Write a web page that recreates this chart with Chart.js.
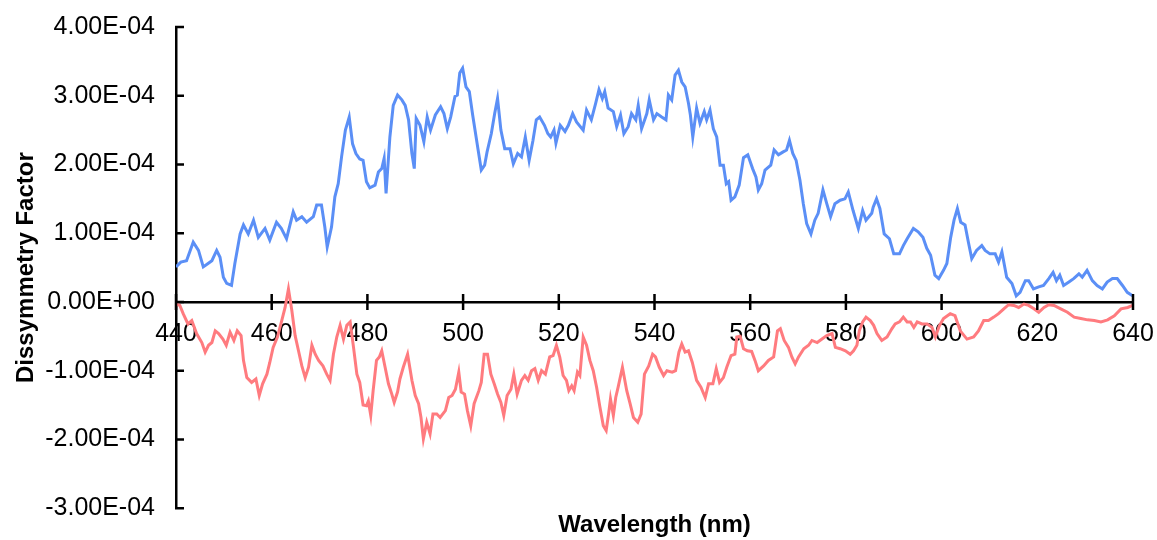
<!DOCTYPE html>
<html>
<head>
<meta charset="utf-8">
<script src="https://cdn.jsdelivr.net/npm/chart.js@4/dist/chart.umd.min.js"></script>
<style>
  html, body { margin: 0; padding: 0; background: #fff; }
  #wrap { width: 1157px; height: 540px; }
</style>
</head>
<body>
<div id="wrap"><canvas id="gChart" width="1157" height="540"></canvas></div>
<script>
// values are read in units of 1e-4
const G_UNIT = 1e-4;

const blueNm = [440.0,441.0,442.2,443.6,444.7,445.7,446.7,447.5,448.5,449.2,449.9,450.6,451.6,452.3,453.4,454.1,455.1,456.2,457.2,458.6,459.6,461.0,462.0,463.1,464.5,465.2,466.3,467.3,468.7,469.4,470.4,471.1,471.6,472.5,473.2,473.9,474.6,475.4,476.2,476.9,477.6,478.4,479.1,479.8,480.5,481.6,482.3,483.0,483.5,483.9,484.7,485.4,486.3,487.2,487.9,488.6,489.3,489.8,490.2,491.0,491.8,492.5,493.2,494.2,495.3,496.0,496.7,497.4,498.3,498.8,499.3,499.9,500.6,501.3,502.0,503.1,503.8,504.5,505.0,505.9,506.6,507.2,507.9,508.7,509.8,510.5,511.4,512.2,513.0,513.8,514.6,515.3,516.0,517.0,517.7,518.3,519.0,519.4,520.3,521.3,522.0,522.9,523.7,525.1,525.8,526.8,527.7,528.4,529.1,529.6,530.3,531.4,532.1,532.9,533.6,534.5,535.2,536.1,536.6,537.3,538.4,538.9,539.8,540.5,541.5,542.4,542.9,543.6,544.3,545.0,545.7,546.4,547.1,547.5,548.0,548.8,549.5,550.4,550.9,551.6,552.3,553.0,553.7,554.4,555.0,555.5,556.0,556.8,557.7,558.6,559.5,560.5,561.2,561.7,562.4,563.1,564.3,565.0,565.9,566.8,567.6,568.2,568.9,569.6,570.4,571.1,571.8,572.7,573.5,574.2,575.2,576.0,576.8,577.7,578.8,579.8,580.5,581.5,582.6,583.5,584.2,585.4,585.7,586.4,587.1,588.0,589.1,590.0,591.2,592.0,592.8,594.1,595.1,596.1,596.9,597.7,598.6,599.4,600.4,601.1,601.9,602.6,603.3,604.0,604.9,605.6,606.3,607.3,608.4,609.1,610.1,611.2,611.9,612.6,613.6,614.7,615.6,616.4,617.5,618.2,619.2,620.3,621.3,622.4,623.3,624.0,624.7,625.5,626.6,627.6,628.7,629.4,630.4,631.5,632.5,633.6,634.6,635.7,636.7,637.8,638.8,639.9];
const blueG = [0.51,0.58,0.60,0.87,0.75,0.51,0.56,0.60,0.75,0.65,0.36,0.27,0.24,0.56,0.99,1.12,0.99,1.19,0.94,1.07,0.90,1.16,1.07,0.92,1.31,1.19,1.24,1.16,1.24,1.41,1.41,1.09,0.80,1.09,1.53,1.72,2.11,2.50,2.69,2.30,2.16,2.08,2.06,1.75,1.66,1.70,1.89,1.94,2.09,1.58,2.40,2.86,3.01,2.94,2.86,2.65,2.16,1.94,2.67,2.57,2.33,2.69,2.50,2.72,2.84,2.74,2.52,2.69,2.99,3.01,3.33,3.40,3.13,3.06,2.72,2.23,1.92,1.99,2.18,2.45,2.74,2.96,2.50,2.23,2.23,2.01,2.16,2.11,2.40,2.06,2.35,2.65,2.69,2.57,2.45,2.40,2.50,2.31,2.57,2.48,2.57,2.74,2.62,2.50,2.79,2.65,2.89,3.09,2.96,3.06,2.82,2.77,2.55,2.72,2.45,2.55,2.74,2.65,2.86,2.52,2.74,2.94,2.65,2.74,2.69,2.65,3.01,2.94,3.30,3.37,3.20,3.13,2.89,2.72,2.40,2.82,2.60,2.77,2.65,2.79,2.52,2.40,1.99,1.99,1.72,1.75,1.48,1.53,1.70,2.10,2.14,1.94,1.82,1.63,1.72,1.92,1.99,2.21,2.14,2.18,2.21,2.35,2.16,2.06,1.77,1.43,1.14,0.99,1.19,1.29,1.63,1.43,1.24,1.43,1.48,1.50,1.60,1.33,1.07,1.33,1.19,1.29,1.38,1.50,1.36,0.99,0.92,0.70,0.70,0.82,0.92,1.07,1.02,0.94,0.78,0.68,0.39,0.34,0.46,0.56,0.94,1.19,1.36,1.16,1.12,0.87,0.63,0.75,0.82,0.75,0.70,0.70,0.58,0.73,0.36,0.27,0.09,0.14,0.31,0.31,0.19,0.22,0.24,0.34,0.43,0.31,0.39,0.24,0.29,0.34,0.41,0.36,0.46,0.31,0.24,0.19,0.29,0.34,0.34,0.24,0.14,0.09];

const redNm = [440.0,440.8,441.5,442.5,443.3,444.3,445.4,446.1,446.8,447.5,448.2,448.9,449.8,450.5,451.3,452.1,452.8,453.6,454.1,454.8,455.8,456.7,457.4,458.1,459.0,459.6,460.3,461.2,462.1,462.8,463.5,464.2,464.9,465.6,466.3,467.0,467.7,468.4,469.1,469.8,470.7,471.5,472.2,472.9,473.6,474.3,475.0,475.7,476.4,477.1,477.8,478.4,479.1,479.8,480.2,480.7,481.2,481.9,482.5,483.0,483.7,484.4,485.1,485.6,486.3,486.8,487.5,488.4,489.3,490.0,490.7,491.2,491.7,492.4,493.1,493.7,494.5,495.2,496.3,497.0,497.7,498.4,499.1,499.6,500.3,500.9,501.6,502.3,503.3,503.8,504.4,505.1,505.8,506.5,507.2,507.9,508.5,509.2,510.0,510.6,511.3,512.2,512.9,513.6,514.3,515.0,515.7,516.4,517.2,518.1,518.8,519.5,520.2,520.9,521.6,522.1,522.7,523.2,523.9,524.4,525.1,525.8,526.5,527.2,527.9,528.6,529.3,529.9,530.4,530.8,531.4,531.9,532.4,533.3,534.2,534.9,535.6,536.5,537.2,537.9,538.8,539.6,540.2,541.0,541.9,542.6,543.7,544.4,545.1,545.7,546.4,547.1,547.9,548.8,549.7,550.6,551.3,552.2,552.9,553.6,554.4,555.1,556.0,556.8,557.2,557.9,558.6,559.4,560.3,561.0,561.7,562.8,563.8,564.9,565.7,566.3,567.1,568.0,568.7,569.4,570.1,571.2,572.2,572.9,574.0,575.0,576.0,577.1,577.8,578.8,579.9,580.9,581.6,582.3,582.8,583.5,584.2,585.1,585.8,586.5,587.5,588.6,589.6,590.3,591.2,592.0,592.8,593.5,594.2,594.9,595.9,597.0,598.0,598.7,599.5,600.4,601.8,602.8,603.9,605.3,606.7,607.7,608.8,609.8,610.9,611.9,613.0,614.0,615.1,616.1,617.2,618.2,619.3,620.3,621.4,622.4,623.5,624.9,626.3,627.7,629.1,630.5,631.9,633.3,634.7,636.1,637.5,638.9,639.9];
const redG = [-0.03,-0.05,-0.17,-0.32,-0.27,-0.46,-0.59,-0.73,-0.63,-0.59,-0.42,-0.46,-0.54,-0.63,-0.44,-0.56,-0.42,-0.49,-0.85,-1.10,-1.17,-1.12,-1.36,-1.19,-1.05,-0.88,-0.66,-0.51,-0.27,-0.08,0.19,-0.12,-0.49,-0.71,-0.93,-1.10,-0.95,-0.63,-0.76,-0.85,-0.93,-1.05,-1.14,-0.76,-0.51,-0.34,-0.54,-0.34,-0.29,-0.66,-1.05,-1.17,-1.50,-1.51,-1.44,-1.65,-1.29,-0.85,-0.80,-0.71,-0.95,-1.19,-1.34,-1.46,-1.31,-1.12,-0.95,-0.76,-1.14,-1.36,-1.48,-1.68,-1.99,-1.75,-1.92,-1.63,-1.63,-1.68,-1.58,-1.39,-1.36,-1.27,-1.02,-1.31,-1.34,-1.58,-1.80,-1.48,-1.29,-1.17,-0.76,-0.76,-1.05,-1.19,-1.34,-1.46,-1.65,-1.36,-1.27,-1.05,-1.34,-1.14,-1.07,-1.14,-1.00,-0.97,-1.14,-1.00,-1.05,-0.80,-0.78,-0.63,-0.80,-1.07,-1.14,-1.29,-1.22,-1.29,-1.02,-1.07,-0.51,-0.63,-0.85,-1.00,-1.24,-1.53,-1.80,-1.87,-1.63,-1.41,-1.65,-1.39,-1.24,-0.95,-1.29,-1.48,-1.68,-1.75,-1.63,-1.05,-0.93,-0.76,-0.80,-0.95,-1.07,-1.00,-1.02,-1.00,-0.73,-0.61,-0.73,-0.71,-0.88,-1.14,-1.24,-1.39,-1.19,-1.19,-0.97,-1.17,-1.10,-0.95,-0.78,-0.76,-0.51,-0.50,-0.68,-0.71,-0.72,-0.85,-1.00,-0.93,-0.85,-0.80,-0.42,-0.39,-0.56,-0.66,-0.80,-0.90,-0.80,-0.68,-0.63,-0.56,-0.59,-0.54,-0.49,-0.46,-0.66,-0.68,-0.71,-0.76,-0.71,-0.63,-0.42,-0.29,-0.22,-0.27,-0.34,-0.46,-0.56,-0.51,-0.39,-0.32,-0.29,-0.22,-0.29,-0.29,-0.37,-0.29,-0.32,-0.32,-0.37,-0.51,-0.35,-0.24,-0.17,-0.20,-0.42,-0.54,-0.51,-0.42,-0.27,-0.27,-0.22,-0.17,-0.10,-0.04,-0.05,-0.08,-0.03,-0.05,-0.10,-0.15,-0.08,-0.04,-0.05,-0.10,-0.15,-0.22,-0.24,-0.26,-0.27,-0.29,-0.26,-0.20,-0.10,-0.08,-0.05];

const X_MIN = 440, X_MAX = 640, X_STEP = 20;
const Y_MIN = -3, Y_MAX = 4, Y_STEP = 1;

const FONT = "'Liberation Sans', Arial, sans-serif";

function toPoints(xs, ys) {
  return xs.map((x, i) => ({ x: x, y: ys[i] * G_UNIT }));
}

// Excel style scientific label, e.g. 4.00E-04
function sci(v) {
  if (Math.abs(v) < 1e-12) return "0.00E+00";
  const parts = v.toExponential(2).split("e");
  const sign = parts[1][0] === "-" ? "-" : "+";
  const exp = parts[1].replace(/[+-]/, "").padStart(2, "0");
  return parts[0] + "E" + sign + exp;
}

// tick marks: crossing on the x axis, inside on the y axis
const tickMarks = {
  id: "tickMarks",
  afterDraw(chart) {
    const { ctx, scales } = chart;
    const xs = scales.x, ys = scales.y;
    const y0 = ys.getPixelForValue(0);
    const left = xs.left;
    ctx.save();
    ctx.strokeStyle = "#000";
    ctx.lineWidth = 2.5;
    ctx.beginPath();
    xs.ticks.forEach((t) => {
      const px = xs.getPixelForValue(t.value);
      ctx.moveTo(px, y0 - 8);
      ctx.lineTo(px, y0 + 8);
    });
    ys.ticks.forEach((t) => {
      const py = ys.getPixelForValue(t.value);
      ctx.moveTo(left - 1, py);
      ctx.lineTo(left + 8, py);
    });
    ctx.stroke();
    ctx.restore();
  },
};

const ctx = document.getElementById("gChart").getContext("2d");
new Chart(ctx, {
  type: "line",
  data: {
    datasets: [
      {
        label: "positive",
        data: toPoints(blueNm, blueG),
        borderColor: "#5B8FF6",
        borderWidth: 3,
        pointRadius: 0,
        tension: 0,
        fill: false,
      },
      {
        label: "negative",
        data: toPoints(redNm, redG),
        borderColor: "#FF7B7F",
        borderWidth: 3,
        pointRadius: 0,
        tension: 0,
        fill: false,
      },
    ],
  },
  options: {
    responsive: false,
    animation: false,
    layout: { padding: { top: 27, right: 24, bottom: 0, left: 0 } },
    plugins: {
      legend: { display: false },
      tooltip: { enabled: false },
      title: {
        display: true,
        position: "bottom",
        fullSize: false,
        text: "Wavelength (nm)",
        color: "#000",
        font: { family: FONT, size: 24, weight: "bold" },
        padding: { top: 3, bottom: 0 },
      },
    },
    scales: {
      x: {
        type: "linear",
        position: { y: 0 },
        min: X_MIN,
        max: X_MAX,
        afterFit(scale) {
          scale.paddingLeft = 0;
          scale.paddingRight = 0;
          scale.height = 0;
        },
        grid: { display: true, drawOnChartArea: false, drawTicks: false },
        border: { display: true, color: "#000", width: 2.5 },
        ticks: {
          stepSize: X_STEP,
          padding: 17,
          color: "#000",
          font: { family: FONT, size: 25 },
          maxRotation: 0,
        },
      },
      y: {
        type: "linear",
        position: "left",
        min: Y_MIN * G_UNIT,
        max: Y_MAX * G_UNIT,
        afterFit(scale) {
          scale.width = 176;
          scale.paddingTop = 0;
          scale.paddingBottom = 0;
        },
        grid: { display: true, drawOnChartArea: false, drawTicks: false },
        border: { display: true, color: "#000", width: 2.5 },
        ticks: {
          stepSize: Y_STEP * G_UNIT,
          padding: 21,
          color: "#000",
          font: { family: FONT, size: 25 },
          callback: (v) => sci(v),
        },
        title: {
          display: true,
          text: "Dissymmetry Factor",
          color: "#000",
          font: { family: FONT, size: 24, weight: "bold" },
          padding: { top: 12, bottom: 0 },
        },
      },
    },
  },
  plugins: [tickMarks],
});
</script>
</body>
</html>
